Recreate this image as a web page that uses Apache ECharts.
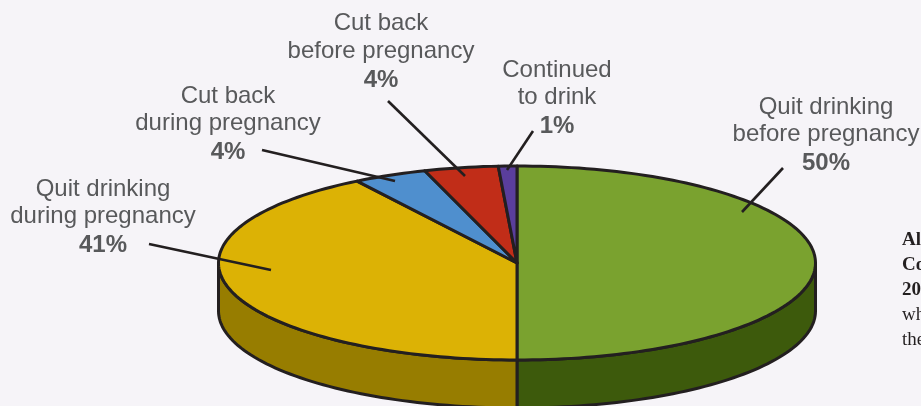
<!DOCTYPE html>
<html><head><meta charset="utf-8">
<style>html,body{margin:0;padding:0;background:#f6f4f8;overflow:hidden}#c{width:921px;height:406px}</style>
<script src="https://cdn.jsdelivr.net/npm/echarts@6/dist/echarts.min.js"></script>
</head><body><div id="c"></div>
<script>
// Data, clockwise from 12 o'clock
const categories = ["Quit drinking\nbefore pregnancy","Quit drinking\nduring pregnancy","Cut back\nduring pregnancy","Cut back\nbefore pregnancy","Continued\nto drink"];
const shares = [50,41,4,4,1];
const sideNote = ["Al","Co","20","wh","the"];

// Styles and layout
const topColors = ["#7aa22f","#dcb205","#4f8fce","#c12d18","#5a3e9c"];
const sideColors = ["#3d5a0c","#977d00","#2f6ca0","#8a1f10","#3d2a70"];
const PIE = {cx:517, cy:263, rx:298.5, ry:97, depth:48};
const INK = "#231f20", GREY = "#58595b";
const LABELS = [
  {x:826, y:[107,134,163], line:[[783,168],[742,212]]},
  {x:103, y:[189,216,245], line:[[149,244],[271,270]]},
  {x:228, y:[96,123,152],  line:[[262,150],[395,181]]},
  {x:381, y:[23,51,80],    line:[[388,101],[465,176]]},
  {x:557, y:[70,97,126],   line:[[533,131],[507,170]]}
];
const total = shares.reduce((a,b)=>a+b,0);
const pt = (deg,dy)=>{const r=deg*Math.PI/180;return [PIE.cx+PIE.rx*Math.sin(r),PIE.cy-PIE.ry*Math.cos(r)+(dy||0)];};
const arc = (a,b,dy)=>{const n=Math.max(2,Math.ceil(Math.abs(b-a)/1.5)),p=[];for(let i=0;i<=n;i++)p.push(pt(a+(b-a)*i/n,dy));return p;};

function renderSlice(params, api){
  const i = params.dataIndex, value = api.value(0);
  let before = 0; for(let k=0;k<i;k++) before += shares[k];
  const a0 = before/total*360, a1 = (before+value)/total*360;
  const kids = [];
  const f0 = Math.max(a0,90), f1 = Math.min(a1,270);
  if(f1>f0){
    kids.push({type:'polygon',z2:1,shape:{points:arc(f0,f1,0).concat(arc(f1,f0,PIE.depth))},
      style:{fill:sideColors[i],stroke:INK,lineWidth:3,lineJoin:'round'}});
  }
  kids.push({type:'polygon',z2:2,shape:{points:[[PIE.cx,PIE.cy]].concat(arc(a0,a1,0))},
    style:{fill:topColors[i],stroke:INK,lineWidth:3,lineJoin:'round'}});
  const L = LABELS[i];
  kids.push({type:'polyline',z2:5,shape:{points:L.line},style:{fill:null,stroke:INK,lineWidth:2.6}});
  const parts = categories[i].split("\n");
  parts.forEach((t,k)=>kids.push({type:'text',z2:6,style:{text:t,x:L.x,y:L.y[k],fill:GREY,
    font:'24px "Liberation Sans"',textAlign:'center',textVerticalAlign:'middle'}}));
  kids.push({type:'text',z2:6,style:{text:value+"%",x:L.x,y:L.y[2],fill:GREY,
    font:'bold 24px "Liberation Sans"',textAlign:'center',textVerticalAlign:'middle'}});
  return {type:'group',children:kids};
}

const chart = echarts.init(document.getElementById('c'),null,{renderer:'canvas'});
chart.setOption({
  backgroundColor:'#f6f4f8',
  animation:false,
  series:[{type:'custom',coordinateSystem:'none',renderItem:renderSlice,
    data:shares.map(v=>[v]),silent:true}],
  graphic:sideNote.map((t,k)=>({type:'text',left:902,top:231+k*25,
    style:{text:t,fill:'#231f20',font:(k<3?'bold ':'')+'19px "Liberation Serif"'}}))
});
</script></body></html>
